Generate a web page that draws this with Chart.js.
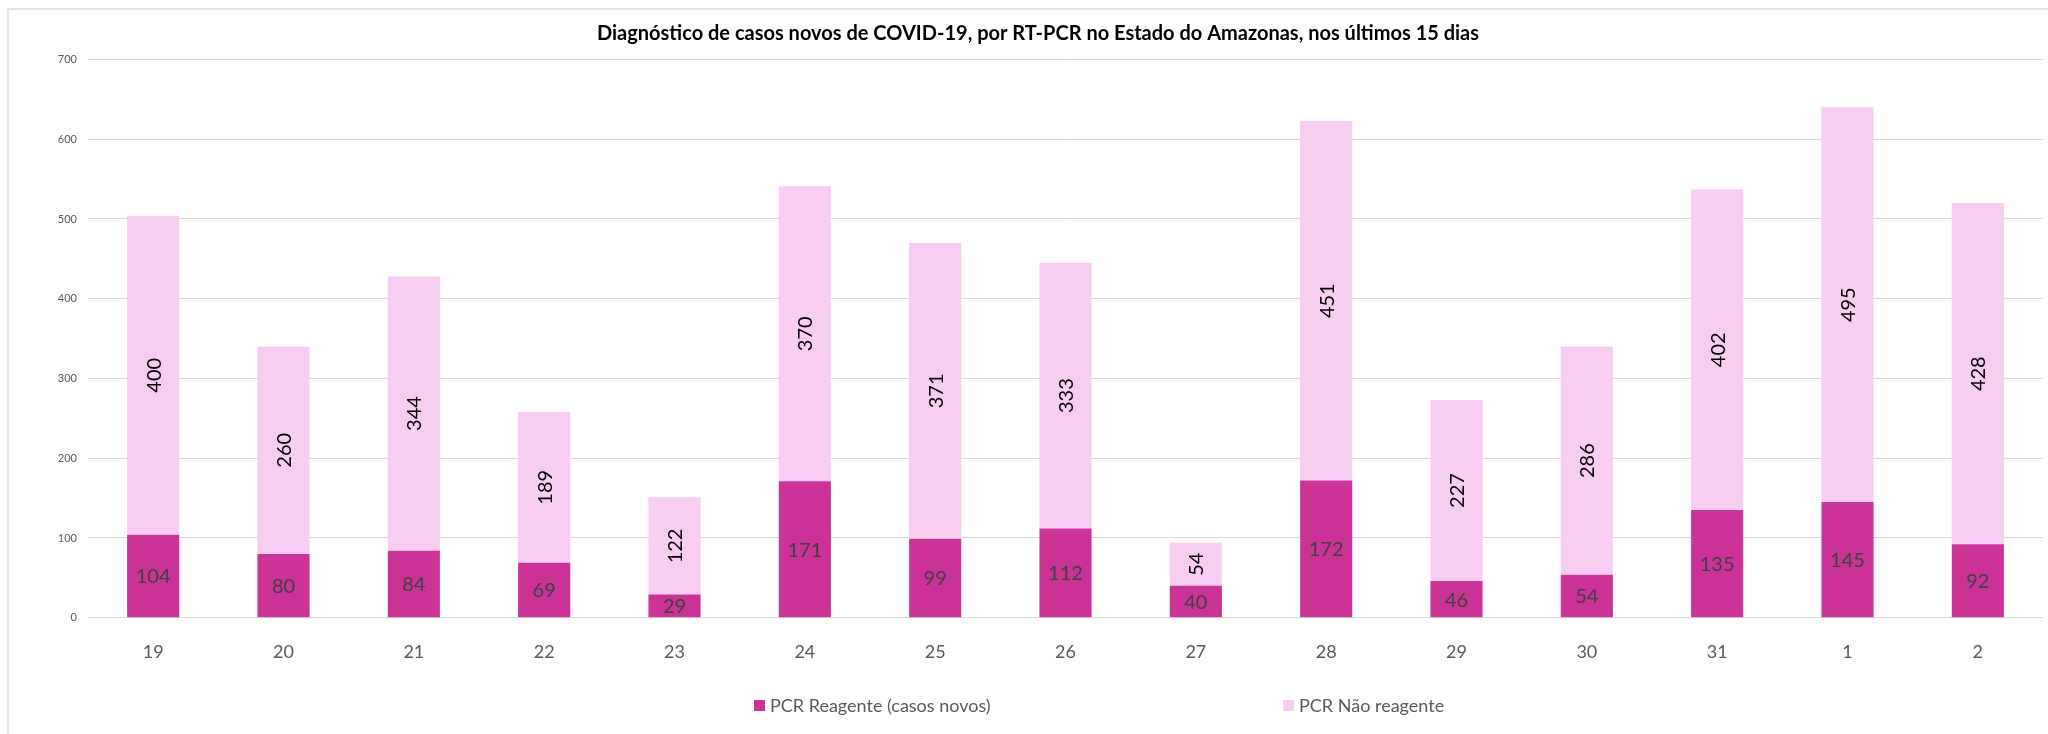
<!DOCTYPE html>
<html lang="pt">
<head>
    <meta charset="UTF-8">
    <title>Diagnóstico COVID-19 Amazonas</title>
    <script src="https://cdn.jsdelivr.net/npm/chart.js@4.4.0/dist/chart.umd.min.js"></script>
    <style>
        * { margin: 0; padding: 0; box-sizing: border-box; }
        body { background: #fff; font-family: Lato, 'Open Sans', sans-serif; }
        .wrap { position: relative; width: 2048px; height: 734px; overflow: hidden; }
        .frame {
            position: absolute; left: 7px; top: 8px; width: 2100px; height: 800px;
            border-top: 2px solid #e4e4e4; border-left: 2px solid #e4e4e4;
        }
        canvas { position: absolute; left: 0; top: 0; }
        .legend-item {
            position: absolute; top: 694px; display: flex; align-items: center;
            font-size: 18px; color: #595959; white-space: nowrap;
        }
        .legend-item .box { width: 11px; height: 11px; margin-right: 5px; }
    </style>
</head>
<body>
    <div class="wrap">
        <div class="frame"></div>
        <canvas id="chart" width="2048" height="734"></canvas>
        <div class="legend-item" id="leg0" style="left: 754px;"><span class="box"></span><span class="txt"></span></div>
        <div class="legend-item" id="leg1" style="left: 1283px;"><span class="box"></span><span class="txt"></span></div>
    </div>

    <script>
        // Days (19 Mar .. 2 Apr)
        const days = ['19', '20', '21', '22', '23', '24', '25', '26', '27', '28', '29', '30', '31', '1', '2'];
        const reagente = [104, 80, 84, 69, 29, 171, 99, 112, 40, 172, 46, 54, 135, 145, 92];
        const naoReagente = [400, 260, 344, 189, 122, 370, 371, 333, 54, 451, 227, 286, 402, 495, 428];
        const seriesNames = ['PCR Reagente (casos novos)', 'PCR Não reagente'];
        const seriesColors = ['#cb3396', '#f9cdf2'];
        const labelColors = ['#404040', '#000000'];
        const yTicks = [0, 100, 200, 300, 400, 500, 600, 700];
        const titleText = 'Diagnóstico de casos novos de COVID-19, por RT-PCR no Estado do Amazonas, nos últimos 15 dias';

        // legend (html)
        seriesNames.forEach((name, i) => {
            const el = document.getElementById('leg' + i);
            el.querySelector('.box').style.background = seriesColors[i];
            el.querySelector('.txt').textContent = name;
        });

        // value labels inside the bar segments
        const barLabels = {
            id: 'barLabels',
            afterDatasetsDraw(chart) {
                const ctx = chart.ctx;
                ctx.save();
                ctx.font = '20px Lato, "Open Sans", sans-serif';
                ctx.textAlign = 'center';
                ctx.textBaseline = 'middle';
                chart.data.datasets.forEach((ds, di) => {
                    const meta = chart.getDatasetMeta(di);
                    meta.data.forEach((bar, i) => {
                        const cy = (bar.y + bar.base) / 2;
                        ctx.fillStyle = labelColors[di];
                        if (di === 0) {
                            ctx.fillText(String(ds.data[i]), bar.x, cy + 1);
                        } else {
                            ctx.save();
                            ctx.translate(bar.x + 1, cy);
                            ctx.rotate(-Math.PI / 2);
                            ctx.fillText(String(ds.data[i]), 0, 0);
                            ctx.restore();
                        }
                    });
                });
                ctx.restore();
            }
        };

        new Chart(document.getElementById('chart'), {
            type: 'bar',
            data: {
                labels: days,
                datasets: [{
                    label: seriesNames[0],
                    data: reagente,
                    backgroundColor: seriesColors[0],
                    barPercentage: 0.4,
                    categoryPercentage: 1
                }, {
                    label: seriesNames[1],
                    data: naoReagente,
                    backgroundColor: seriesColors[1],
                    barPercentage: 0.4,
                    categoryPercentage: 1
                }]
            },
            options: {
                responsive: false,
                animation: false,
                layout: { padding: { left: 33, right: 5, top: 0, bottom: 0 } },
                plugins: {
                    legend: { display: false },
                    tooltip: { enabled: false },
                    title: {
                        display: true,
                        text: titleText,
                        color: '#000',
                        font: { family: 'Lato', size: 20, weight: 'bold', lineHeight: 1.2 },
                        padding: { top: 22, bottom: 13.5 }
                    }
                },
                scales: {
                    x: {
                        stacked: true,
                        grid: { display: false },
                        border: { display: false },
                        ticks: { color: '#595959', font: { family: 'Lato', size: 18 }, padding: 15.5 },
                        afterFit(s) { s.height = 116.3; }
                    },
                    y: {
                        stacked: true,
                        min: yTicks[0],
                        max: yTicks[yTicks.length - 1],
                        afterBuildTicks(s) { s.ticks = yTicks.map(v => ({ value: v })); },
                        grid: { color: '#d9d9d9', drawTicks: false },
                        border: { display: false },
                        ticks: { color: '#595959', font: { family: 'Lato', size: 11 }, padding: 11 },
                        afterFit(s) { s.width = 55; }
                    }
                }
            },
            plugins: [barLabels]
        });
    </script>
</body>
</html>
